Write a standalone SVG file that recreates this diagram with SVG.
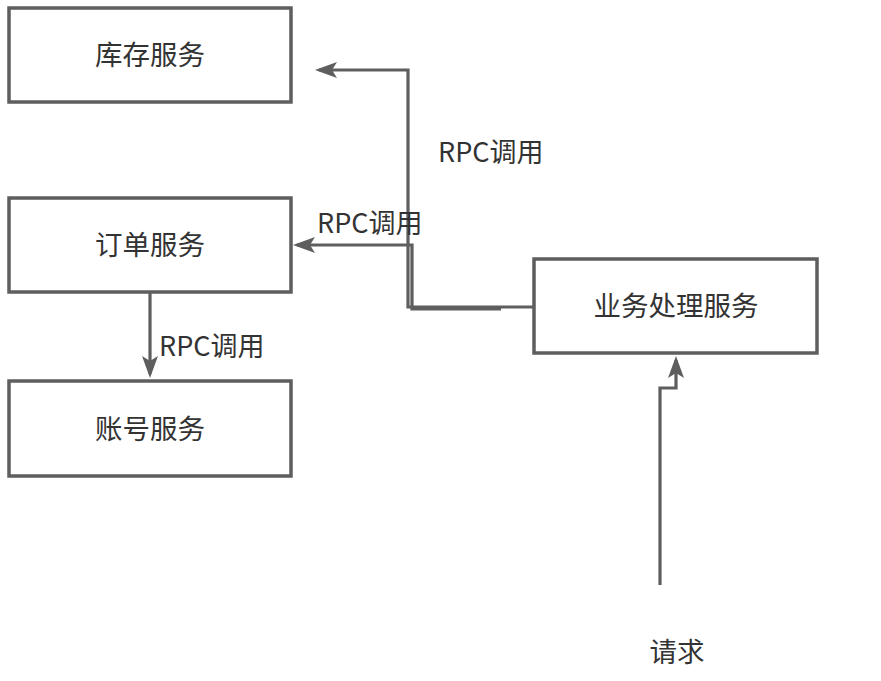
<svg xmlns="http://www.w3.org/2000/svg" width="881" height="681" viewBox="0 0 881 681">
<defs>
<marker id="arr" markerUnits="userSpaceOnUse" markerWidth="24" markerHeight="18" refX="18" refY="8" orient="auto">
<path d="M0,0 L22,8 L0,16 L5,8 z" fill="#5e5e5e"/>
</marker>
<style>
.box{fill:#fff;stroke:#5e5e5e;stroke-width:3.5}
.lbl{font-family:"Noto Sans CJK SC","Noto Sans",sans-serif;font-size:27.5px;fill:#333;text-anchor:middle}
.edge{fill:none;stroke:#5e5e5e;stroke-width:3.2;marker-end:url(#arr)}
.elbl{font-family:"Noto Sans CJK SC","Noto Sans",sans-serif;font-size:27px;fill:#333}
</style>
</defs>
<rect width="881" height="681" fill="#fff"/>
<g id="connectors">
<path class="edge" d="M534,307 L408,307 L408,70 L319,70"/>
<path class="edge" d="M501,309 L412,309 L412,245 L297,245"/>
<path class="edge" d="M150,292 L150,374"/>
<path class="edge" d="M660,585 L660,388 L676,388 L676,360"/>
<text class="elbl" x="438" y="162">RPC调用</text>
<text class="elbl" x="317" y="233">RPC调用</text>
<text class="elbl" x="159" y="356">RPC调用</text>
</g>
<g id="kucun">
<rect class="box" x="9" y="8" width="282" height="94"/>
<text class="lbl" x="150" y="65">库存服务</text>
</g>
<g id="dingdan">
<rect class="box" x="9" y="198" width="282" height="94"/>
<text class="lbl" x="150" y="255">订单服务</text>
</g>
<g id="zhanghao">
<rect class="box" x="9" y="381" width="282" height="95"/>
<text class="lbl" x="150" y="439">账号服务</text>
</g>
<g id="yewu">
<rect class="box" x="534" y="259" width="283" height="94"/>
<text class="lbl" x="676" y="316">业务处理服务</text>
</g>
<g id="qingqiu">
<text class="lbl" x="677" y="662">请求</text>
</g>
</svg>
